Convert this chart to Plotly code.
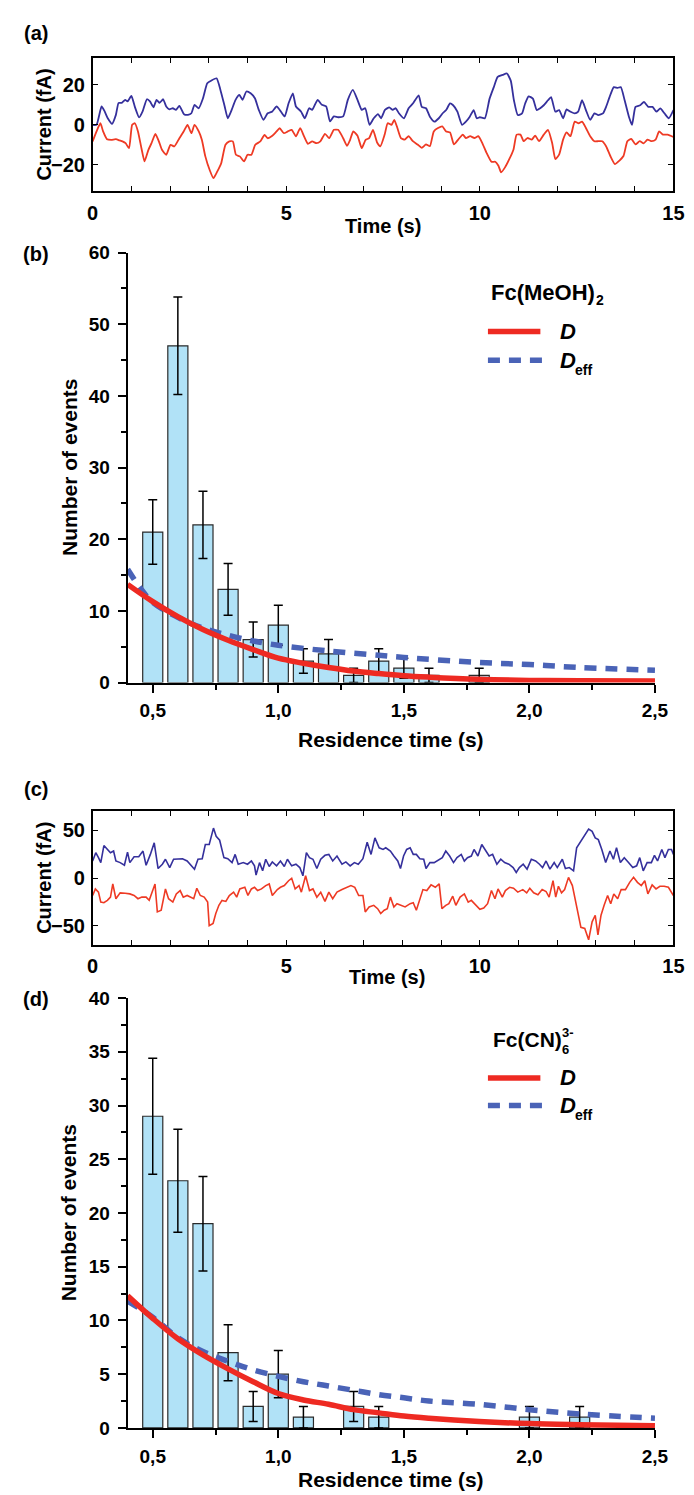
import plotly.graph_objects as go

W, H = 694, 1495
FONT = "Liberation Sans, Arial, sans-serif"

# ---------------- panel (a) traces ----------------
a_blue_t = [0, 0.1, 0.23, 0.31, 0.39, 0.5, 0.6, 0.67, 0.75, 0.84, 0.9, 1.0, 1.09, 1.2, 1.29, 1.4, 1.48, 1.57,
            1.65, 1.73, 1.82, 1.9, 1.98, 2.07, 2.15, 2.24, 2.36, 2.46, 2.55, 2.63, 2.74, 2.85, 2.96, 3.07, 3.2,
            3.3, 3.41, 3.49, 3.59, 3.69, 3.79, 3.87, 3.97, 4.08, 4.19, 4.29, 4.41, 4.52, 4.64, 4.75, 4.86, 4.96,
            5.06, 5.17, 5.25, 5.38, 5.48, 5.59, 5.67, 5.81, 5.92, 6.03, 6.13, 6.23, 6.34, 6.47, 6.59, 6.72, 6.84,
            6.95, 7.04, 7.15, 7.26, 7.37, 7.45, 7.55, 7.66, 7.75, 7.83, 7.91, 8.04, 8.16, 8.27, 8.42, 8.5, 8.61,
            8.71, 8.83, 8.94, 9.04, 9.13, 9.23, 9.31, 9.42, 9.54, 9.64, 9.74, 9.84, 9.92, 10.0, 10.13, 10.25,
            10.36, 10.46, 10.59, 10.7, 10.8, 10.88, 10.98, 11.09, 11.17, 11.26, 11.37, 11.47, 11.55, 11.65,
            11.76, 11.84, 11.95, 12.05, 12.15, 12.24, 12.34, 12.45, 12.54, 12.64, 12.74, 12.85, 12.96, 13.06,
            13.18, 13.26, 13.35, 13.46, 13.56, 13.64, 13.74, 13.85, 13.93, 14.02, 14.14, 14.24, 14.35, 14.46,
            14.56, 14.66, 14.77, 14.88, 15.0]
a_blue_i = [0, 0, 9.2, 6.7, 3.3, 0.5, 5, 11, 11, 12.5, 11.7, 14.5, 9, 3.7, 6.7, 12.8, 11.7, 8.8,
            12.5, 11, 12.8, 9.2, 7.8, 8.3, 7.5, 9.5, 5.3, 5, 5.8, 10, 8.3, 13.3, 20.8, 22.2, 23.3,
            17.5, 9.2, 3.3, 7.5, 12.5, 15, 12.5, 16.7, 15.8, 13.3, 7.5, 2.5, 5.8, 6.7, 9.2, 6.7, 4.2,
            10.8, 15.8, 9.2, 6.7, 3.3, 8.3, 7.5, 12.5, 10, 9.2, 1.7, 4.2, 3.8, 4.2, 12.5, 17.5, 12.5,
            7.5, 8.3, 0, 3.3, 5.4, 3.3, 7.5, 8.7, 7.5, 8.3, 5.8, 3.3, 8.3, 10.7, 14.8, 9, 8.3,
            4.1, 1.6, 3.3, 5.8, 7.4, 10.7, 9.8, 6.6, 0, 1.6, 4.1, 7.4, 3.3, 3.8, 3.3, 13,
            18.9, 24, 25, 25.7, 22, 12.3, 4.9, 5.7, 10.7, 14.3, 13.1, 7.4, 8.2, 9.8,
            12.3, 13.9, 6.6, 7.4, 3.3, 7.7, 6.6, 5.7, 6.6, 12.3, 7.4, 2.5, 5.7, 4.9,
            5.7, 9, 13.9, 18.9, 18.5, 18.9, 12.3, 4.1, 0, 9, 9.8, 11.5, 9, 9,
            6.6, 8.2, 5.7, 3.3, 7.4]

a_red_t = [0, 0.1, 0.2, 0.27, 0.37, 0.48, 0.6, 0.69, 0.77, 0.85, 0.94, 1.02, 1.09, 1.17, 1.26, 1.34, 1.44,
           1.52, 1.62, 1.71, 1.79, 1.9, 2.01, 2.11, 2.24, 2.35, 2.45, 2.55, 2.63, 2.74, 2.82, 2.91, 3.02, 3.12,
           3.22, 3.32, 3.43, 3.53, 3.62, 3.7, 3.8, 3.91, 4.0, 4.1, 4.2, 4.33, 4.44, 4.52, 4.64, 4.75, 4.83,
           4.94, 5.04, 5.14, 5.25, 5.36, 5.46, 5.56, 5.67, 5.78, 5.88, 6.0, 6.11, 6.23, 6.34, 6.47, 6.57, 6.65,
           6.73, 6.84, 6.95, 7.05, 7.14, 7.24, 7.35, 7.43, 7.54, 7.62, 7.72, 7.79, 7.87, 7.96, 8.06, 8.16, 8.27,
           8.39, 8.5, 8.61, 8.71, 8.81, 8.92, 9.03, 9.13, 9.23, 9.33, 9.44, 9.56, 9.64, 9.75, 9.86, 9.96,
           10.06, 10.17, 10.3, 10.4, 10.48, 10.55, 10.65, 10.76, 10.87, 10.95, 11.05, 11.13, 11.23, 11.34,
           11.43, 11.53, 11.65, 11.76, 11.87, 11.95, 12.05, 12.15, 12.24, 12.34, 12.45, 12.55, 12.64, 12.74,
           12.85, 12.96, 13.06, 13.16, 13.26, 13.37, 13.49, 13.6, 13.71, 13.81, 13.91, 14.02, 14.13, 14.23,
           14.33, 14.44, 14.54, 14.63, 14.73, 14.85, 15.0]
a_red_i = [-8.3, -3.3, 0.8, -3.3, -7.2, -7.5, -7.2, -7.8, -8.3, -9.2, -11.7, 0, 0.8, -3.3, -11.7, -18.3, -12.5,
           -9.2, -4.5, -8.3, -12.5, -15, -10, -10.8, -6.7, -3.3, 0, -4.2, 0, -3.3, -7.5, -15.8, -22.5, -26.7,
           -23.3, -19.2, -10, -8.3, -8.3, -15, -15.8, -18.3, -15, -15, -10, -8.3, -5, -6.7, -5.5, -3.3, -1.7,
           -4.2, -3.3, -2.5, -5.8, -1.7, -5.8, -9.5, -8.3, -9.2, -8.3, -4.5, -6.7, -2.5, -2.5, -6.7, -10.5, -7.5,
           -3.3, -5.5, -11.7, -7.5, -6.7, -2.5, -9, -10.8, -5, 0.8, 0, 2.5, -1.6, -6.6, -7.4, -5.7, -8.2,
           -9.8, -11.5, -9.8, -10.7, -3.3, -1.6, -0.8, -3.3, -3.8, -9.8, -7.4, -4.9, -6.6, -5.7, -6.6, -5.7,
           -9, -13.9, -18.5, -18.5, -20.5, -23.8, -21.3, -17.2, -12.3, -4.9, -4.9, -8.2, -6.6, -7.4,
           -5.4, -8.2, -4.9, -2.5, -9.3, -17.2, -14.8, -7.4, -3.8, -5.7, 1.6, 0.8, 1.6, -1.6,
           -5.7, -8.2, -8.2, -8.2, -10.7, -15.6, -19.7, -18, -15.6, -8.2, -7, -9.8, -8.2, -9.3,
           -7.4, -8.2, -7.4, -3.3, -4.9, -4.9, -6.1]

# ---------------- panel (c) traces ----------------
c_blue_t = [0, 0.08, 0.15, 0.21, 0.29, 0.38, 0.46, 0.54, 0.6, 0.71, 0.82, 0.9, 0.96, 1.07, 1.19, 1.3, 1.38,
            1.49, 1.59, 1.69, 1.8, 1.88, 1.99, 2.09, 2.22, 2.32, 2.44, 2.55, 2.63, 2.72, 2.83, 2.91, 3.01,
            3.12, 3.19, 3.28, 3.39, 3.49, 3.6, 3.68, 3.76, 3.89, 4.0, 4.1, 4.18, 4.22, 4.31, 4.39, 4.47, 4.56,
            4.64, 4.75, 4.85, 4.95, 5.03, 5.14, 5.25, 5.35, 5.43, 5.52, 5.6, 5.69, 5.79, 5.89, 6.0, 6.1, 6.2,
            6.31, 6.44, 6.54, 6.65, 6.76, 6.86, 6.98, 7.09, 7.19, 7.29, 7.4, 7.5, 7.57, 7.69, 7.78, 7.88,
            7.95, 8.03, 8.11, 8.2, 8.28, 8.36, 8.45, 8.55, 8.61, 8.71, 8.82, 8.95, 9.03, 9.12, 9.22, 9.32,
            9.41, 9.52, 9.6, 9.68, 9.78, 9.85, 9.95, 10.05, 10.14, 10.24, 10.33, 10.44, 10.54, 10.64, 10.75,
            10.86, 10.94, 11.02, 11.12, 11.22, 11.33, 11.44, 11.54, 11.62, 11.71, 11.81, 11.92, 12.0, 12.13,
            12.21, 12.31, 12.42, 12.5, 12.61, 12.71, 12.81, 12.9, 12.98, 13.06, 13.15, 13.25, 13.36, 13.45,
            13.53, 13.63, 13.73, 13.84, 13.95, 14.05, 14.13, 14.22, 14.32, 14.43, 14.51, 14.59, 14.7, 14.78,
            14.87, 14.95, 15.0]
c_blue_i = [17.9, 26.6, 21.4, 16.2, 34.1, 30, 26.6, 28.3, 17.9, 16.2, 13.4, 27.2, 16.2, 22.4, 22.4, 28.3, 13.4,
            24.8, 36.9, 10, 14.5, 19.7, 11, 19.7, 19.7, 20.3, 17.9, 13.4, 9.3, 19.7, 20.3, 35.2, 35.2,
            52.4, 43.8, 39.7, 21.4, 20.3, 16.2, 24.8, 14.5, 16.2, 14.5, 17.9, 12.8, 3.1, 16.2, 7.6, 19.7, 12.1,
            16.9, 12.8, 17.9, 12.1, 19.7, 12.8, 14.5, 11, 2.4, 26.6, 21.4, 19.7, 10, 19.7, 23.8, 24.8, 17.9,
            23.1, 14.5, 16.9, 12.8, 16.2, 14.5, 20.3, 37.6, 24.8, 42.1, 31.7, 30, 31.7, 28.3, 23.1, 17.9,
            10, 23.1, 30, 31.7, 24.8, 24.8, 20.3, 19.7, 10, 16.2, 16.2, 19.7, 21.4, 28.3, 23.1, 16.2,
            21.4, 24.8, 17.9, 21.4, 23.1, 30, 23.1, 35.2, 30, 23.1, 24.8, 14.5, 19.7, 16.2, 14.5,
            11, 5.9, 11, 14.5, 9.3, 19.7, 17.9, 14.5, 11, 17.9, 9.3, 16.2, 11, 19.7,
            10, 11, 7.6, 31.7, 38.6, 45.5, 51.4, 49, 42.1, 40.3, 30, 16.2, 28.3, 19.7,
            31.7, 16.2, 21.4, 16.2, 11, 12.8, 21.4, 7.6, 16.2, 16.2, 23.8, 17.9, 30, 21.4,
            30, 30, 24.8]

c_red_t = [0, 0.07, 0.15, 0.21, 0.29, 0.38, 0.46, 0.52, 0.6, 0.71, 0.84, 0.96, 1.07, 1.17, 1.27, 1.38, 1.46,
           1.55, 1.61, 1.67, 1.77, 1.88, 1.96, 2.07, 2.16, 2.26, 2.34, 2.44, 2.53, 2.61, 2.69, 2.78, 2.88,
           2.97, 3.01, 3.11, 3.18, 3.26, 3.34, 3.44, 3.53, 3.64, 3.72, 3.8, 3.93, 4.01, 4.1, 4.18, 4.26, 4.36,
           4.47, 4.56, 4.64, 4.77, 4.85, 4.95, 5.06, 5.14, 5.23, 5.33, 5.39, 5.5, 5.6, 5.69, 5.79, 5.89, 6.0,
           6.1, 6.2, 6.31, 6.44, 6.56, 6.67, 6.77, 6.87, 6.98, 7.04, 7.14, 7.26, 7.36, 7.44, 7.53, 7.61, 7.69,
           7.78, 7.86, 7.96, 8.07, 8.2, 8.28, 8.36, 8.45, 8.53, 8.63, 8.74, 8.85, 8.95, 9.02, 9.12, 9.2, 9.3,
           9.38, 9.49, 9.6, 9.7, 9.78, 9.87, 10.0, 10.1, 10.2, 10.3, 10.39, 10.47, 10.58, 10.66, 10.77,
           10.87, 10.98, 11.11, 11.21, 11.29, 11.39, 11.5, 11.61, 11.71, 11.79, 11.89, 11.96, 12.03, 12.11,
           12.19, 12.29, 12.39, 12.46, 12.53, 12.61, 12.71, 12.81, 12.9, 12.98, 13.05, 13.13, 13.21, 13.3,
           13.38, 13.46, 13.56, 13.65, 13.76, 13.87, 13.97, 14.07, 14.17, 14.26, 14.34, 14.45, 14.55, 14.65,
           14.76, 14.87, 15.0]
c_red_i = [-18.3, -11.4, -14.8, -25.2, -25.9, -23.4, -20, -6.2, -21.7, -15.5, -15.9, -16.6, -18.3, -21.7, -20,
           -20, -23.4, -13.1, -6.2, -35.5, -33.8, -11.4, -21.7, -25.2, -16.6, -13.1, -20, -18.3, -20, -21.7,
           -10.7, -18.3, -20, -25.2, -50, -47.6, -37.2, -28.6, -23.4, -24.5, -18.3, -14.8, -20, -11.4, -9.7,
           -18.3, -11.4, -9.7, -13.1, -11.4, -7.9, -6.2, -18.3, -12.1, -9.7, -7.9, -2.8, -0.3, -11.4, -7.9,
           -14.8, 2.4, -13.1, -11.4, -20, -14.8, -24.5, -14.8, -21.7, -14.8, -12.1, -9.7, -7.9, -9.7, -18.3,
           -18.3, -35.5, -30.3, -28.6, -32.1, -37.2, -33.8, -32.1, -20, -30.3, -26.9, -28.6, -30.3, -26.9,
           -25.9, -33.8, -23.4, -12.1, -13.1, -7.2, -9.7, -6.2, -32.1, -28.6, -26.9, -19, -28.6, -20, -16.6,
           -25.2, -23.4, -26.9, -32.8, -31.4, -26.9, -13.1, -21.7, -11.4, -20, -13.1, -9.7, -10.7, -14.8,
           -12.1, -15.5, -10.7, -15.5, -17.6, -12.1, -14.1, -20, -2.8, -20, -8.6, -15.5, -12.1, 0.7, -7.9,
           -21.7, -32.1, -51.7, -52.8, -64.8, -45.9, -39, -59.7, -39, -28.6, -18.3, -26.9, -16.6, -21.7,
           -12.1, -12.1, -4.5, 0.7, -4.5, -7.9, -2.8, -16.6, -7.2, -11.4, -8.6, -8.6, -9.7, -18.3]

# ---------------- panel (b) histogram + fits ----------------
b_bins = [0.5, 0.6, 0.7, 0.8, 0.9, 1.0, 1.1, 1.2, 1.3, 1.4, 1.5, 1.6, 1.8]
b_counts = [21, 47, 22, 13, 6, 8, 3, 4, 1, 3, 2, 1, 1]
b_err = [4.5, 6.8, 4.7, 3.6, 2.45, 2.8, 1.7, 2.0, 1.0, 1.7, 1.4, 1.0, 1.0]
b_D_t = [0.4, 0.5, 0.6, 0.7, 0.8, 0.9, 1.0, 1.1, 1.2, 1.3, 1.4, 1.5, 1.6, 1.8, 2.0, 2.2, 2.5]
b_D_n = [13.7, 11.3, 9.2, 7.4, 5.9, 4.6, 3.4, 2.7, 2.1, 1.6, 1.25, 0.95, 0.75, 0.45, 0.3, 0.25, 0.2]
b_Deff_t = [0.4, 0.45, 0.5, 0.6, 0.7, 0.8, 0.9, 1.0, 1.2, 1.4, 1.5, 1.8, 2.0, 2.2, 2.5]
b_Deff_n = [15.8, 13.2, 11.2, 9.1, 7.6, 6.6, 5.8, 5.2, 4.4, 3.8, 3.5, 2.8, 2.5, 2.1, 1.7]

# ---------------- panel (d) histogram + fits ----------------
d_bins = [0.5, 0.6, 0.7, 0.8, 0.9, 1.0, 1.1, 1.3, 1.4, 2.0, 2.2]
d_counts = [29, 23, 19, 7, 2, 5, 1, 2, 1, 1, 1]
d_err = [5.4, 4.8, 4.4, 2.6, 1.4, 2.2, 1.0, 1.4, 1.0, 1.0, 1.0]
d_D_t = [0.4, 0.5, 0.6, 0.7, 0.8, 0.9, 1.0, 1.1, 1.2, 1.3, 1.4, 1.5, 1.6, 1.8, 2.0, 2.2, 2.5]
d_D_n = [12.3, 10.2, 8.3, 6.8, 5.5, 4.3, 3.2, 2.6, 2.2, 1.7, 1.4, 1.1, 0.9, 0.6, 0.4, 0.3, 0.2]
d_Deff_t = [0.4, 0.5, 0.6, 0.7, 0.8, 0.9, 1.0, 1.1, 1.2, 1.3, 1.4, 1.5, 1.6, 1.8, 2.0, 2.2, 2.5]
d_Deff_n = [11.8, 10.3, 8.4, 7.1, 6.2, 5.4, 4.8, 4.3, 3.9, 3.5, 3.1, 2.8, 2.5, 2.2, 1.7, 1.3, 0.9]

time_ticks = [0, 5, 10, 15]
res_ticks = [0.5, 1.0, 1.5, 2.0, 2.5]
res_text = ["0,5", "1,0", "1,5", "2,0", "2,5"]

TRACE_BLUE = "#35309c"
TRACE_RED = "#ee3a24"
FIT_RED = "#ee2a22"
FIT_BLUE = "#4a63b7"
BAR_FILL = "#b1e2f7"


def px(x):
    return x / W


def py(y):
    return 1 - y / H


fig = go.Figure()

# traces (a)
fig.add_trace(go.Scatter(x=a_blue_t, y=a_blue_i, mode="lines", line=dict(color=TRACE_BLUE, width=1.8, shape="spline", smoothing=0.5),
                         xaxis="x", yaxis="y", showlegend=False))
fig.add_trace(go.Scatter(x=a_red_t, y=a_red_i, mode="lines", line=dict(color=TRACE_RED, width=1.8, shape="spline", smoothing=0.5),
                         xaxis="x", yaxis="y", showlegend=False))
# traces (c)
fig.add_trace(go.Scatter(x=c_blue_t, y=c_blue_i, mode="lines", line=dict(color=TRACE_BLUE, width=1.6),
                         xaxis="x3", yaxis="y3", showlegend=False))
fig.add_trace(go.Scatter(x=c_red_t, y=c_red_i, mode="lines", line=dict(color=TRACE_RED, width=1.6),
                         xaxis="x3", yaxis="y3", showlegend=False))

# histograms (b), (d)
for bins, counts, err, xa, ya in [(b_bins, b_counts, b_err, "x2", "y2"), (d_bins, d_counts, d_err, "x4", "y4")]:
    fig.add_trace(go.Bar(x=bins, y=counts, width=0.08, marker=dict(color=BAR_FILL, line=dict(color="#2a2a2a", width=1.2)),
                         error_y=dict(type="data", array=err, visible=True, color="black", thickness=1.5, width=4.5),
                         xaxis=xa, yaxis=ya, showlegend=False))

for (tD, nD, tE, nE, xa, ya) in [(b_D_t, b_D_n, b_Deff_t, b_Deff_n, "x2", "y2"),
                                  (d_D_t, d_D_n, d_Deff_t, d_Deff_n, "x4", "y4")]:
    fig.add_trace(go.Scatter(x=tE, y=nE, mode="lines", line=dict(color=FIT_BLUE, width=5.5, dash="12px,9px", shape="spline"),
                             xaxis=xa, yaxis=ya, showlegend=False))
    fig.add_trace(go.Scatter(x=tD, y=nD, mode="lines", line=dict(color=FIT_RED, width=5.5, shape="spline"),
                             xaxis=xa, yaxis=ya, showlegend=False))

tickfont_a = dict(family=FONT, size=20, color="black", weight="bold")
tickfont_b = dict(family=FONT, size=19, color="black", weight="bold")

dom_ac_x = [px(81), px(679)]
dom_bd_x = [px(117), px(660)]
dom_a_y = [py(175), py(40.7)]
dom_b_y = [py(674), py(238)]
dom_c_y = [py(940), py(804.6)]
dom_d_y = [py(1430), py(994)]

common_trace_ax = dict(showline=True, linecolor="black", linewidth=1.5, mirror="ticks", ticks="inside",
                       showgrid=False, zeroline=False, tickcolor="black", tickwidth=1.3)
time_minor = dict(dtick=1, tick0=0, ticks="inside", ticklen=5, tickcolor="black", tickwidth=1.3)

fig.update_layout(
    width=W, height=H, margin=dict(l=0, r=0, t=0, b=0),
    plot_bgcolor="white", paper_bgcolor="white",
    font=dict(family=FONT, color="black"),
    xaxis=dict(domain=dom_ac_x, anchor="y", range=[0, 15], tickvals=time_ticks, ticklen=5,
               tickfont=tickfont_a, minor=time_minor, ticklabelstandoff=4, **common_trace_ax),
    yaxis=dict(domain=dom_a_y, anchor="x", range=[-32.9, 33.4], tickvals=[-20, 0, 20], ticklen=6,
               tickfont=tickfont_a, ticklabelstandoff=2, **common_trace_ax),
    xaxis3=dict(domain=dom_ac_x, anchor="y3", range=[0, 15], tickvals=time_ticks, ticklen=5,
                tickfont=tickfont_a, minor=time_minor, ticklabelstandoff=2, **common_trace_ax),
    yaxis3=dict(domain=dom_c_y, anchor="x3", range=[-70, 70], tickvals=[-50, 0, 50], ticklen=6,
                tickfont=tickfont_a, ticklabelstandoff=2, **common_trace_ax),
)

hist_x = dict(range=[0.4, 2.5], tickvals=res_ticks, ticktext=res_text, showgrid=False, zeroline=False,
              showline=True, linecolor="black", linewidth=2, tickcolor="black", tickwidth=1.5)
hist_y = dict(showgrid=False, zeroline=False, showline=True, linecolor="black", linewidth=2,
              tickcolor="black", tickwidth=1.5)

fig.update_layout(
    xaxis2=dict(domain=dom_bd_x, anchor="y2", ticks="outside", ticklen=8, tickfont=tickfont_b, ticklabelstandoff=2,
                minor=dict(dtick=0.25, tick0=0, ticks="outside", ticklen=5, tickcolor="black", tickwidth=1.5), **hist_x),
    yaxis2=dict(domain=dom_b_y, anchor="x2", range=[0, 60], dtick=10, ticks="outside", ticklen=8, tickfont=tickfont_b,
                ticklabelstandoff=4,
                minor=dict(dtick=5, ticks="outside", ticklen=5, tickcolor="black", tickwidth=1.5), **hist_y),
    xaxis5=dict(overlaying="x2", anchor="y2", side="top", ticks="inside", ticklen=8, showticklabels=False,
                minor=dict(dtick=0.25, tick0=0, ticks="inside", ticklen=5, tickcolor="black", tickwidth=1.5), **hist_x),
    yaxis5=dict(overlaying="y2", anchor="x2", side="right", range=[0, 60], dtick=10, ticks="inside", ticklen=8,
                showticklabels=False,
                minor=dict(dtick=5, ticks="inside", ticklen=5, tickcolor="black", tickwidth=1.5), **hist_y),
    xaxis4=dict(domain=dom_bd_x, anchor="y4", ticks="outside", ticklen=8, tickfont=tickfont_b, ticklabelstandoff=2,
                minor=dict(dtick=0.25, tick0=0, ticks="outside", ticklen=5, tickcolor="black", tickwidth=1.5), **hist_x),
    yaxis4=dict(domain=dom_d_y, anchor="x4", range=[0, 40], dtick=5, ticks="outside", ticklen=8, tickfont=tickfont_b,
                ticklabelstandoff=4,
                minor=dict(dtick=2.5, ticks="outside", ticklen=5, tickcolor="black", tickwidth=1.5), **hist_y),
    xaxis6=dict(overlaying="x4", anchor="y4", side="top", ticks="inside", ticklen=8, showticklabels=False,
                minor=dict(dtick=0.25, tick0=0, ticks="inside", ticklen=5, tickcolor="black", tickwidth=1.5), **hist_x),
    yaxis6=dict(overlaying="y4", anchor="x4", side="right", range=[0, 40], dtick=5, ticks="inside", ticklen=8,
                showticklabels=False,
                minor=dict(dtick=2.5, ticks="inside", ticklen=5, tickcolor="black", tickwidth=1.5), **hist_y),
)

ann = []


def text(x, y, s, size, xanchor="center", yanchor="middle", angle=0, style="normal"):
    ann.append(dict(x=px(x), y=py(y), xref="paper", yref="paper", text=s, showarrow=False,
                    xanchor=xanchor, yanchor=yanchor, textangle=angle,
                    font=dict(family=FONT, size=size, color="black", weight="bold", style=style)))


# panel letters
text(23, 15, "(a)", 20)
text(23, 239, "(b)", 20)
text(23, 782, "(c)", 20)
text(23, 995, "(d)", 20)
# axis titles
text(31, 108, "Current (fA)", 20, angle=-90)
text(31, 872, "Current (fA)", 20, angle=-90)
text(380, 211, "Time (s)", 20)
text(384, 973, "Time (s)", 20)
text(57, 456, "Number of events", 21, angle=-90)
text(57, 1212, "Number of events", 21, angle=-90)
text(388, 732, "Residence time (s)", 21)
text(388, 1482, "Residence time (s)", 21)
# legend (b)
text(489, 278, "Fc(MeOH)", 22, xanchor="left")
text(597, 286, "2", 14, xanchor="left")
text(560, 318, "D", 22, xanchor="left", style="italic")
text(560, 347, "D", 22, xanchor="left", style="italic")
text(576, 357, "eff", 14, xanchor="left")
# legend (d)
text(491, 1036, "Fc(CN)", 21, xanchor="left")
text(562, 1046, "6", 13, xanchor="left")
text(562, 1029, "3-", 13, xanchor="left")
text(560, 1075, "D", 22, xanchor="left", style="italic")
text(560, 1103, "D", 22, xanchor="left", style="italic")
text(576, 1113, "eff", 14, xanchor="left")

shapes = []
for yl_red, yl_blue in [(318, 347), (1075, 1103)]:
    shapes.append(dict(type="line", xref="paper", yref="paper", x0=px(488), x1=px(542), y0=py(yl_red), y1=py(yl_red),
                       line=dict(color=FIT_RED, width=5.5)))
    shapes.append(dict(type="line", xref="paper", yref="paper", x0=px(488), x1=px(544), y0=py(yl_blue), y1=py(yl_blue),
                       line=dict(color=FIT_BLUE, width=5.5, dash="12px,9px")))

fig.update_layout(annotations=ann, shapes=shapes)

fig.write_html("out.html")
